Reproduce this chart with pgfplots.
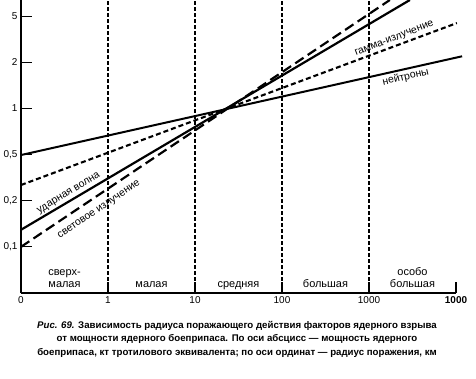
\documentclass[border=0pt]{standalone}
\usepackage{pgfplots}
\pgfplotsset{compat=1.18}
\usepackage{fontspec}
\setmainfont{Liberation Sans}
\begin{document}
\begin{tikzpicture}
\begin{axis}[
  at={(0,0)}, anchor=south west,
  width=435bp, height=293bp, scale only axis,
  xmin=0, xmax=5, ymin=-1, ymax=5.35,
  clip=false,
  axis x line=bottom, axis y line=left,
  axis line style={-, line width=1.4pt},
  xtick={0,1,2,3,4,5},
  xticklabels={0,1,10,100,1000,\textbf{1000}},
  ytick={0,1,2,3,4,5},
  yticklabels={{0,1},{0,2},{0,5},1,2,5},
  tick align=inside,
  major tick length=11bp,
  tick style={line width=1.1pt, black},
  tick label style={font=\fontsize{10}{12}\selectfont},
]
% vertical dashed dividers
\addplot[black, line width=1.1pt, dash pattern=on 4bp off 2bp] coordinates {(1,-1) (1,5.35)};
\addplot[black, line width=1.1pt, dash pattern=on 4bp off 2bp] coordinates {(2,-1) (2,5.35)};
\addplot[black, line width=1.1pt, dash pattern=on 4bp off 2bp] coordinates {(3,-1) (3,5.35)};
\addplot[black, line width=1.1pt, dash pattern=on 4bp off 2bp] coordinates {(4,-1) (4,5.35)};
% shock wave
\addplot[black, line width=2.2pt] coordinates {(0,0.37) (4.47,5.35)};
% light radiation
\addplot[black, line width=2.2pt, dash pattern=on 10bp off 5bp] coordinates {(0,0) (4.24,5.35)};
% gamma radiation
\addplot[black, line width=2.1pt, dash pattern=on 5bp off 3bp] coordinates {(0,1.34) (5.01,4.85)};
% neutrons
\addplot[black, line width=2pt] coordinates {(0,1.99) (5.07,4.13)};

\node[rotate=31, anchor=south, inner sep=2.5pt, font=\fontsize{10.5}{12}\selectfont] at (axis cs:0.59,1.03) {ударная волна};
\node[rotate=34, font=\fontsize{10.5}{12}\selectfont] at (axis cs:0.90,0.80) {световое излучение};
\node[rotate=21, anchor=south, inner sep=2.5pt, font=\fontsize{10.5}{12}\selectfont] at (axis cs:4.32,4.37) {гамма-излучение};
\node[rotate=13, anchor=north, inner sep=3pt, font=\fontsize{10.5}{12}\selectfont] at (axis cs:4.40,3.85) {нейтроны};

\node[anchor=base, font=\fontsize{11}{13}\selectfont] at (axis cs:0.5,-0.61) {сверх-};
\node[anchor=base, font=\fontsize{11}{13}\selectfont] at (axis cs:0.5,-0.89) {малая};
\node[anchor=base, font=\fontsize{11}{13}\selectfont] at (axis cs:1.5,-0.89) {малая};
\node[anchor=base, font=\fontsize{11}{13}\selectfont] at (axis cs:2.5,-0.89) {средняя};
\node[anchor=base, font=\fontsize{11}{13}\selectfont] at (axis cs:3.5,-0.89) {большая};
\node[anchor=base, font=\fontsize{11}{13}\selectfont] at (axis cs:4.5,-0.61) {особо};
\node[anchor=base, font=\fontsize{11}{13}\selectfont] at (axis cs:4.5,-0.89) {большая};
\end{axis}
\node[align=center, font=\bfseries\fontsize{9.7}{13.5}\selectfont] at (216bp,-46bp)
  {\textit{Рис. 69.} Зависимость радиуса поражающего действия факторов ядерного взрыва\\
   от мощности ядерного боеприпаса. По оси абсцисс — мощность ядерного\\
   боеприпаса, кт тротилового эквивалента; по оси ординат — радиус поражения, км};
\pgfresetboundingbox
\path (-21bp,-86bp) rectangle (455bp,293bp);
\end{tikzpicture}
\end{document}
